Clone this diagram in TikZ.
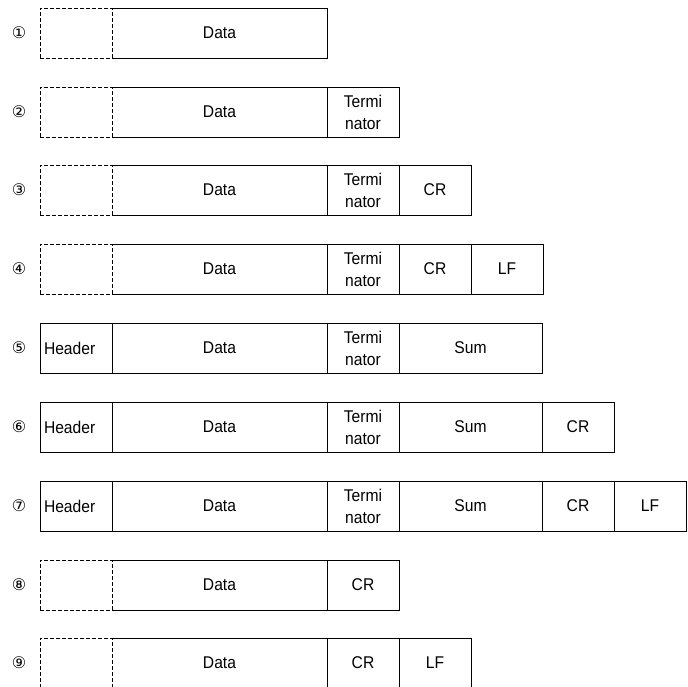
\documentclass[tikz,border=0pt]{standalone}
\usepackage{fontspec}
\setmainfont{Liberation Sans}[FakeStretch=0.92]
\newfontfamily\circfont{DejaVu Sans}
\usetikzlibrary{positioning}

\begin{document}
\begin{tikzpicture}[x=1pt, y=-1pt,
		fld/.style={draw, line width=0.8pt, minimum height=50pt, inner sep=0pt, outer sep=0pt, font=\fontsize{17}{22}\selectfont, align=center},
		hd/.style={fld, minimum width=72pt, text width=64pt, align=left},
		hdx/.style={fld, minimum width=72pt, line width=0.7pt, dash pattern=on 4pt off 2pt},
		dat/.style={fld, minimum width=215pt},
		datx/.style={dat, draw=none},
		sm/.style={fld, minimum width=72pt},
		sum/.style={fld, minimum width=143pt},
		edge/.style={line width=0.8pt},
		num/.style={font=\circfont\fontsize{16}{16}\selectfont}
		]
		\useasboundingbox (0,0) rectangle (688,686);
		\clip (0,0) rectangle (688,686);

		% 1
		\node[num] (n1) at (19,33) {①};
		\node[hdx] (h1) at (76,33) {};
		\node[datx, right=0pt of h1] (d1) {Data};
		\draw[edge] (d1.north west) -- (d1.north east) -- (d1.south east) -- (d1.south west);

		% 2
		\node[num] (n2) at (19,112) {②};
		\node[hdx] (h2) at (76,112) {};
		\node[datx, right=0pt of h2] (d2) {Data};
		\draw[edge] (d2.north west) -- (d2.north east) -- (d2.south east) -- (d2.south west);
		\node[sm, right=0pt of d2] (t2) {Termi\\nator};

		% 3
		\node[num] (n3) at (19,190) {③};
		\node[hdx] (h3) at (76,190) {};
		\node[datx, right=0pt of h3] (d3) {Data};
		\draw[edge] (d3.north west) -- (d3.north east) -- (d3.south east) -- (d3.south west);
		\node[sm, right=0pt of d3] (t3) {Termi\\nator};
		\node[sm, right=0pt of t3] (c3) {CR};

		% 4
		\node[num] (n4) at (19,269) {④};
		\node[hdx] (h4) at (76,269) {};
		\node[datx, right=0pt of h4] (d4) {Data};
		\draw[edge] (d4.north west) -- (d4.north east) -- (d4.south east) -- (d4.south west);
		\node[sm, right=0pt of d4] (t4) {Termi\\nator};
		\node[sm, right=0pt of t4] (c4) {CR};
		\node[sm, right=0pt of c4] (l4) {LF};

		% 5
		\node[num] (n5) at (19,348) {⑤};
		\node[hd] (h5) at (76,348) {Header};
		\node[dat, right=0pt of h5] (d5) {Data};
		\node[sm, right=0pt of d5] (t5) {Termi\\nator};
		\node[sum, right=0pt of t5] (s5) {Sum};

		% 6
		\node[num] (n6) at (19,427) {⑥};
		\node[hd] (h6) at (76,427) {Header};
		\node[dat, right=0pt of h6] (d6) {Data};
		\node[sm, right=0pt of d6] (t6) {Termi\\nator};
		\node[sum, right=0pt of t6] (s6) {Sum};
		\node[sm, right=0pt of s6] (c6) {CR};

		% 7
		\node[num] (n7) at (19,506) {⑦};
		\node[hd] (h7) at (76,506) {Header};
		\node[dat, right=0pt of h7] (d7) {Data};
		\node[sm, right=0pt of d7] (t7) {Termi\\nator};
		\node[sum, right=0pt of t7] (s7) {Sum};
		\node[sm, right=0pt of s7] (c7) {CR};
		\node[sm, right=0pt of c7] (l7) {LF};

		% 8
		\node[num] (n8) at (19,585) {⑧};
		\node[hdx] (h8) at (76,585) {};
		\node[datx, right=0pt of h8] (d8) {Data};
		\draw[edge] (d8.north west) -- (d8.north east) -- (d8.south east) -- (d8.south west);
		\node[sm, right=0pt of d8] (c8) {CR};

		% 9
		\node[num] (n9) at (19,663) {⑨};
		\node[hdx] (h9) at (76,663) {};
		\node[datx, right=0pt of h9] (d9) {Data};
		\draw[edge] (d9.north west) -- (d9.north east) -- (d9.south east) -- (d9.south west);
		\node[sm, right=0pt of d9] (c9) {CR};
		\node[sm, right=0pt of c9] (l9) {LF};
	\end{tikzpicture}
\end{document}
